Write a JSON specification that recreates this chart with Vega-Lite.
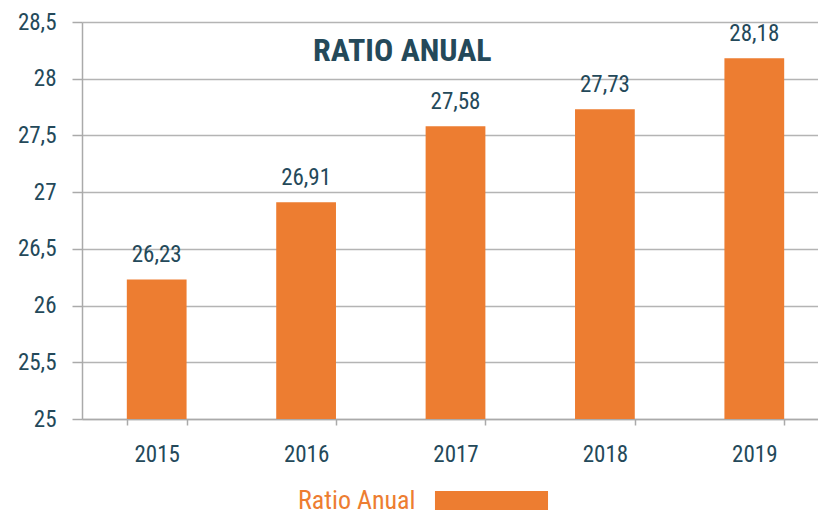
{
  "$schema": "https://vega.github.io/schema/vega-lite/v6.json",
  "autosize": "none",
  "width": 736,
  "height": 397,
  "padding": {"left": 82, "top": 22, "right": 0, "bottom": 96},
  "background": "white",
  "config": {
    "locale": {"number": {"decimal": ",", "thousands": ".", "grouping": [3], "currency": ["", " €"]}},
    "font": "Roboto Condensed, Liberation Sans Narrow, DejaVu Sans Condensed, Roboto",
    "view": {"stroke": null}
  },
  "title": {
    "text": "RATIO ANUAL",
    "anchor": "start",
    "frame": "group",
    "dx": 231,
    "dy": 61,
    "fontSize": 32,
    "fontWeight": "bold",
    "color": "#24495a"
  },
  "data": {
    "values": [
      {"year": "2015", "ratio": 26.23, "serie": "Ratio Anual"},
      {"year": "2016", "ratio": 26.91, "serie": "Ratio Anual"},
      {"year": "2017", "ratio": 27.58, "serie": "Ratio Anual"},
      {"year": "2018", "ratio": 27.73, "serie": "Ratio Anual"},
      {"year": "2019", "ratio": 28.18, "serie": "Ratio Anual"}
    ]
  },
  "encoding": {
    "x": {
      "field": "year",
      "type": "nominal",
      "scale": {"range": [0, 747], "paddingInner": 0.6, "paddingOuter": 0.3},
      "axis": {
        "title": null,
        "labelAngle": 0,
        "labelFontSize": 23,
        "labelColor": "#24495a",
        "labelPadding": 18,
        "tickBand": "extent",
        "tickSize": 6,
        "tickColor": "#aaaaaa",
        "tickWidth": 1.5,
        "domainColor": "#aaaaaa",
        "domainWidth": 1.5
      }
    },
    "y": {
      "field": "ratio",
      "type": "quantitative",
      "scale": {"domain": [25, 28.5], "zero": false, "nice": false},
      "axis": {
        "title": null,
        "values": [25, 25.5, 26, 26.5, 27, 27.5, 28, 28.5],
        "format": ".1~f",
        "labelFontSize": 23,
        "labelColor": "#24495a",
        "labelPadding": 16,
        "tickSize": 10,
        "tickColor": "#aaaaaa",
        "tickWidth": 1.5,
        "domainColor": "#aaaaaa",
        "domainWidth": 1.5,
        "gridColor": "#b4b4b4",
        "gridWidth": 1.5
      }
    }
  },
  "layer": [
    {
      "mark": {"type": "bar"},
      "encoding": {
        "y2": {"datum": 25},
        "color": {
          "field": "serie",
          "type": "nominal",
          "scale": {"range": ["#ED7D31"]},
          "legend": {
            "orient": "none",
            "legendX": 216,
            "legendY": 469,
            "title": "Ratio Anual",
            "titleOrient": "left",
            "titleFontSize": 26,
            "titleFontWeight": "normal",
            "titleColor": "#ED7D31",
            "titlePadding": 66,
            "titleBaseline": "middle",
            "labelExpr": "''",
            "labelFontSize": 1,
            "symbolType": "M-5.95,-1L5.95,-1L5.95,1L-5.95,1Z",
            "symbolSize": 361,
            "symbolStrokeWidth": 0,
            "symbolOpacity": 1
          }
        }
      }
    },
    {
      "mark": {"type": "text", "baseline": "bottom", "dy": -12, "fontSize": 23, "color": "#24495a"},
      "encoding": {
        "text": {"field": "ratio", "type": "quantitative", "format": ".2f"}
      }
    }
  ]
}
